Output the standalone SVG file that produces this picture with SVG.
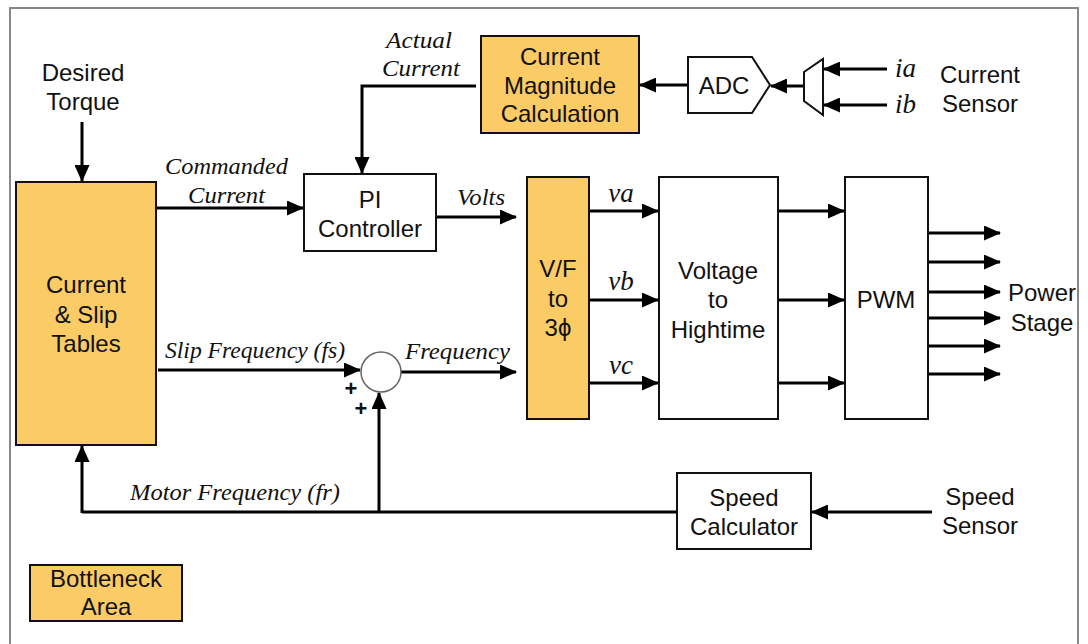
<svg xmlns="http://www.w3.org/2000/svg" width="1088" height="644" viewBox="0 0 1088 644">
<style>
.box{stroke:#111;stroke-width:2;fill:#fff}
.hot{fill:#FBCB66}
.t{font-family:"Liberation Sans",Arial,sans-serif;font-size:24px;fill:#111;text-anchor:middle}
.i{font-family:"Liberation Serif","Times New Roman",serif;font-style:italic;font-size:24px;fill:#111}
.v{font-size:27px}
.p{font-size:22px;font-weight:bold}
.w{stroke:#000;stroke-width:3;fill:none}
.a{marker-end:url(#ah)}
</style>
<defs>
<marker id="ah" markerUnits="userSpaceOnUse" markerWidth="17" markerHeight="15" refX="16" refY="7.5" orient="auto">
<path d="M0,0 L17,7.5 L0,15 Z" fill="#000"/>
</marker>
</defs>
<rect x="0" y="0" width="1088" height="644" fill="#fff"/>
<rect x="10" y="8" width="1068" height="650" fill="none" stroke="#888" stroke-width="2"/>

<g id="connectors">
<path class="w a" d="M82,122 V181"/>
<path class="w a" d="M152,208 H303"/>
<path class="w a" d="M476,86 H362 V173"/>
<path class="w a" d="M687,85 H640"/>
<path class="w a" d="M804,86 H771"/>
<path class="w a" d="M887,69 H824"/>
<path class="w a" d="M887,105 H824"/>
<path class="w a" d="M436,217 H516"/>
<path class="w a" d="M589,211 H658"/>
<path class="w a" d="M589,300 H658"/>
<path class="w a" d="M589,383 H658"/>
<path class="w a" d="M778,211 H844"/>
<path class="w a" d="M778,300 H844"/>
<path class="w a" d="M778,383 H844"/>
<path class="w a" d="M928,233 H1000"/>
<path class="w a" d="M928,262 H1000"/>
<path class="w a" d="M928,292 H1000"/>
<path class="w a" d="M928,318 H1000"/>
<path class="w a" d="M928,346 H1000"/>
<path class="w a" d="M928,374 H1000"/>
<path class="w a" d="M158,370 H360"/>
<path class="w a" d="M401,372 H516"/>
<path class="w" d="M677,512 H82"/>
<path class="w a" d="M82,513 V446"/>
<path class="w a" d="M379,512 V393"/>
<path class="w a" d="M932,512 H812"/>
</g>

<g id="desired-torque"><text class="t" x="83" y="81">Desired</text><text class="t" x="83" y="110">Torque</text></g>

<g id="tables"><rect class="box hot" x="16" y="182" width="140" height="263"/>
<text class="t" x="86" y="293">Current</text><text class="t" x="86" y="323">&amp; Slip</text><text class="t" x="86" y="352">Tables</text></g>

<g id="pi"><rect class="box" x="304" y="174" width="132" height="77"/>
<text class="t" x="370" y="208">PI</text><text class="t" x="370" y="237">Controller</text></g>

<g id="cmc"><rect class="box hot" x="481" y="36" width="158" height="97"/>
<text class="t" x="560" y="65">Current</text><text class="t" x="560" y="94">Magnitude</text><text class="t" x="560" y="122">Calculation</text></g>

<g id="adc"><path class="box" d="M688,57 H752 L770,85 L752,113 H688 Z"/>
<text class="t" x="724" y="94">ADC</text></g>

<g id="mux"><path class="box" d="M804,72 L823,59 V115 L804,101 Z"/></g>

<g id="current-sensor"><text class="i v" x="895" y="77">ia</text><text class="i v" x="895" y="113">ib</text>
<text class="t" x="980" y="83">Current</text><text class="t" x="980" y="112">Sensor</text></g>

<g id="vf"><rect class="box hot" x="527" y="177" width="62" height="242"/>
<text class="t" x="558" y="277">V/F</text><text class="t" x="558" y="307">to</text><text class="t" x="558" y="336">3ϕ</text></g>

<g id="vth"><rect class="box" x="659" y="177" width="119" height="242"/>
<text class="t" x="718" y="279">Voltage</text><text class="t" x="718" y="308">to</text><text class="t" x="718" y="338">Hightime</text></g>

<g id="pwm"><rect class="box" x="845" y="177" width="83" height="242"/>
<text class="t" x="886" y="308">PWM</text></g>

<g id="power-stage"><text class="t" x="1042" y="301">Power</text><text class="t" x="1042" y="331">Stage</text></g>

<g id="sum"><circle cx="381" cy="372" r="20" fill="#fff" stroke="#666" stroke-width="1.5"/>
<text class="t p" x="351" y="396">+</text><text class="t p" x="361" y="416">+</text></g>

<g id="speed-calc"><rect class="box" x="677" y="473" width="134" height="76"/>
<text class="t" x="744" y="506">Speed</text><text class="t" x="744" y="535">Calculator</text></g>

<g id="speed-sensor"><text class="t" x="980" y="505">Speed</text><text class="t" x="980" y="534">Sensor</text></g>

<g id="bottleneck"><rect class="box hot" x="30" y="565" width="152" height="56"/>
<text class="t" x="106" y="587">Bottleneck</text><text class="t" x="106" y="615">Area</text></g>

<g id="labels">
<text class="i" x="386" y="48" textLength="66" lengthAdjust="spacingAndGlyphs">Actual</text>
<text class="i" x="382" y="76" textLength="78" lengthAdjust="spacingAndGlyphs">Current</text>
<text class="i" x="165" y="174" textLength="123" lengthAdjust="spacingAndGlyphs">Commanded</text>
<text class="i" x="188" y="203" textLength="77" lengthAdjust="spacingAndGlyphs">Current</text>
<text class="i" x="457" y="205" textLength="48" lengthAdjust="spacingAndGlyphs">Volts</text>
<text class="i" x="165" y="358" textLength="180" lengthAdjust="spacingAndGlyphs">Slip Frequency (fs)</text>
<text class="i" x="405" y="359" textLength="105" lengthAdjust="spacingAndGlyphs">Frequency</text>
<text class="i" x="130" y="500" textLength="210" lengthAdjust="spacingAndGlyphs">Motor Frequency (fr)</text>
<text class="i v" x="621" y="202" text-anchor="middle">va</text>
<text class="i v" x="621" y="290" text-anchor="middle">vb</text>
<text class="i v" x="621" y="374" text-anchor="middle">vc</text>
</g>
</svg>
